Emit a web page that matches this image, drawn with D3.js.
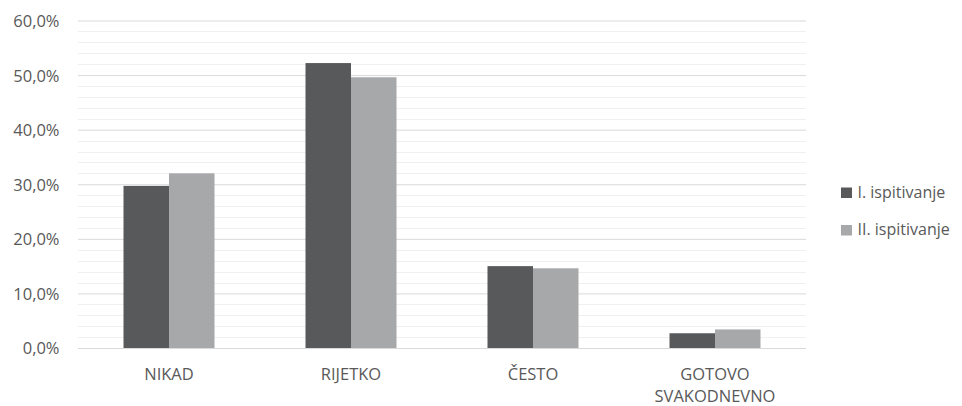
<!DOCTYPE html>
<html>
<head>
<meta charset="utf-8">
<script src="https://cdn.jsdelivr.net/npm/d3@7"></script>
<style>
  html, body { margin: 0; padding: 0; background: #fff; }
  text { font-family: "Open Sans", Lato, sans-serif; fill: #595959; }
</style>
</head>
<body>
<svg id="chart" width="962" height="406"></svg>
<script>
// Frequency of answers, two survey rounds (share of respondents, %)
const categories = [["NIKAD"], ["RIJETKO"], ["ČESTO"], ["GOTOVO", "SVAKODNEVNO"]];
const seriesNames = ["I. ispitivanje", "II. ispitivanje"];
const seriesI  = [29.7, 52.2, 15.0, 2.7];
const seriesII = [32.0, 49.6, 14.6, 3.4];
const yTicks = [0, 10, 20, 30, 40, 50, 60];
const yMinorTicks = d3.range(0, 61, 2);
const colors = ["#58595b", "#a7a8aa"];

const svg = d3.select("#chart");
const margin = { left: 78, right: 156, top: 20.5, bottom: 58 };
const width = 962, height = 406;
const x0 = margin.left, x1 = width - margin.right;
const y0 = height - margin.bottom, y1 = margin.top;

const keys = categories.map(c => c.join(" "));
const x = d3.scaleBand().domain(keys).range([x0, x1]).paddingInner(0.5).paddingOuter(0.25);
const xs = d3.scaleBand().domain(seriesNames).range([0, x.bandwidth()]);
const y = d3.scaleLinear().domain([0, 60]).range([y0, y1]);

// minor grid
svg.append("g").selectAll("line").data(yMinorTicks.filter(v => v % 10 !== 0)).join("line")
  .attr("x1", x0).attr("x2", x1)
  .attr("y1", d => Math.round(y(d)) + 0.5).attr("y2", d => Math.round(y(d)) + 0.5)
  .attr("stroke", "#f0f0f0").attr("stroke-width", 1);

// major grid + labels via axis
const yAxis = d3.axisLeft(y).tickValues(yTicks).tickSize(-(x1 - x0)).tickPadding(18.5)
  .tickFormat(d => d3.format(".1f")(d).replace(".", ",") + "%");
const gy = svg.append("g").attr("transform", `translate(${x0},0)`).call(yAxis);
gy.attr("font-family", null).attr("font-size", null);
gy.select(".domain").remove();
gy.selectAll(".tick line").attr("stroke", "#d9d9d9");
gy.selectAll(".tick text").attr("font-size", 16.5).attr("dy", "0.36em").style("fill", "#595959");

// bars
const rows = keys.map((k, i) => ({ key: k, values: [seriesI[i], seriesII[i]] }));
const groups = svg.append("g").selectAll("g").data(rows).join("g")
  .attr("transform", d => `translate(${x(d.key)},0)`);
groups.selectAll("rect").data(d => d.values.map((v, j) => ({ v, s: seriesNames[j], j }))).join("rect")
  .attr("x", d => xs(d.s))
  .attr("width", xs.bandwidth())
  .attr("y", d => y(d.v))
  .attr("height", d => y(0) - y(d.v))
  .attr("fill", d => colors[d.j]);

// baseline
svg.append("line").attr("x1", x0).attr("x2", x1)
  .attr("y1", Math.round(y(0)) + 0.5).attr("y2", Math.round(y(0)) + 0.5)
  .attr("stroke", "#d9d9d9");

// category labels
const xl = svg.append("g");
categories.forEach((lines, i) => {
  const cx = x(keys[i]) + x.bandwidth() / 2;
  const t = xl.append("text").attr("text-anchor", "middle").attr("font-size", 16.5)
    .attr("x", cx).attr("y", 379.5);
  lines.forEach((ln, k) => t.append("tspan").attr("x", cx)
    .attr("dy", k === 0 ? 0 : 22).text(ln));
});

// legend
const lg = svg.append("g").attr("transform", "translate(841,187.5)");
seriesNames.forEach((n, i) => {
  const g = lg.append("g").attr("transform", `translate(0,${i * 37.5})`);
  g.append("rect").attr("width", 11).attr("height", 10.5).attr("fill", colors[i]);
  g.append("text").attr("x", 16.5).attr("y", 10).attr("font-size", 16).text(n);
});
</script>
</body>
</html>
